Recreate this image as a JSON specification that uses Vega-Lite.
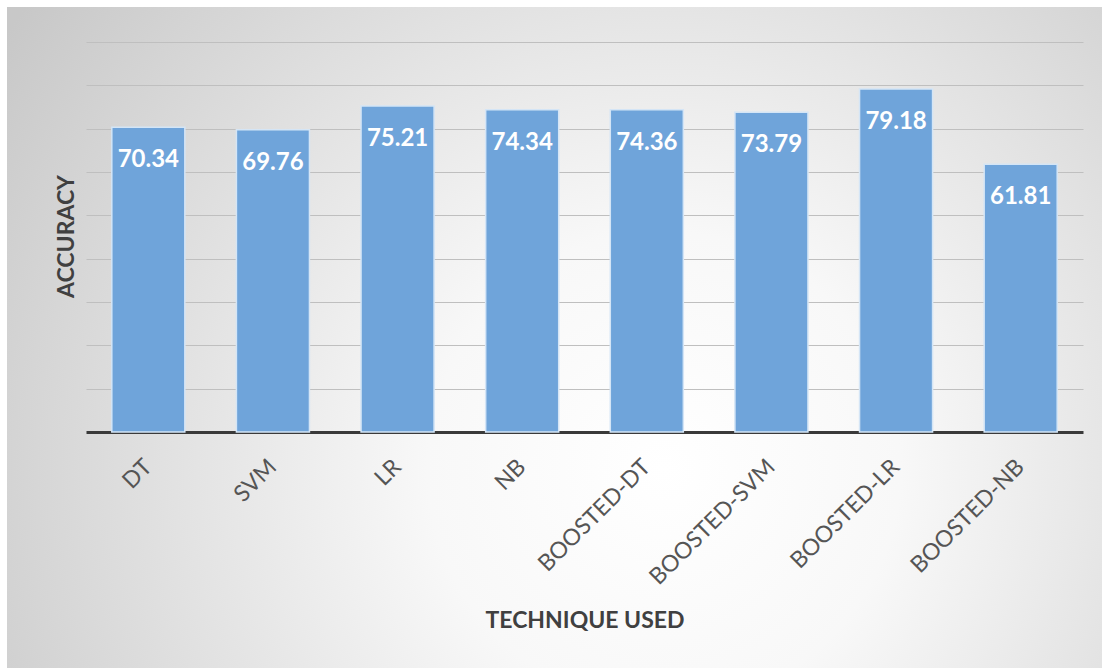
{
  "$schema": "https://vega.github.io/schema/vega-lite/v6.json",
  "autosize": {"type": "none"},
  "padding": {"left": 7, "top": 7, "right": 5, "bottom": 3},
  "width": 1095,
  "height": 661,
  "background": "#ffffff",
  "view": {
    "stroke": null,
    "fill": {
      "gradient": "radial",
      "x1": 0.6, "y1": 0.62, "r1": 0,
      "x2": 0.6, "y2": 0.62, "r2": 0.72,
      "stops": [
        {"offset": 0, "color": "#ffffff"},
        {"offset": 0.3, "color": "#f8f8f8"},
        {"offset": 1, "color": "#c8c8c8"}
      ]
    }
  },
  "data": {
    "values": [
      {"technique": "DT", "accuracy": 70.34},
      {"technique": "SVM", "accuracy": 69.76},
      {"technique": "LR", "accuracy": 75.21},
      {"technique": "NB", "accuracy": 74.34},
      {"technique": "BOOSTED-DT", "accuracy": 74.36},
      {"technique": "BOOSTED-SVM", "accuracy": 73.79},
      {"technique": "BOOSTED-LR", "accuracy": 79.18},
      {"technique": "BOOSTED-NB", "accuracy": 61.81}
    ]
  },
  "encoding": {
    "x": {
      "field": "technique",
      "type": "nominal",
      "sort": null,
      "scale": {"range": [79, 1076], "paddingInner": 0.414, "paddingOuter": 0.207},
      "axis": {
        "title": "TECHNIQUE USED",
        "offset": -236,
        "domain": true,
        "domainColor": "#3a3a3a",
        "domainWidth": 3,
        "ticks": false,
        "labelAngle": -45,
        "labelAlign": "right",
        "labelBaseline": "middle",
        "labelPadding": 31,
        "labelFont": "Lato",
        "labelFontSize": 23,
        "labelColor": "#555555",
        "titleFont": "Lato",
        "titleFontSize": 23,
        "titleFontWeight": "bold",
        "titleColor": "#404040",
        "titleBaseline": "alphabetic",
        "titleY": 195
      }
    },
    "y": {
      "field": "accuracy",
      "type": "quantitative",
      "scale": {"domain": [-54.46, 98.08], "nice": false, "zero": false},
      "axis": {
        "title": "ACCURACY",
        "offset": -79,
        "values": [10, 20, 30, 40, 50, 60, 70, 80, 90],
        "labels": false,
        "ticks": false,
        "domain": false,
        "grid": true,
        "gridColor": "#bfbfbf",
        "gridWidth": 1,
        "titleFont": "Lato",
        "titleFontSize": 23,
        "titleFontWeight": "bold",
        "titleColor": "#404040",
        "titleAngle": -90,
        "titleAlign": "center",
        "titleBaseline": "alphabetic",
        "titleX": -13,
        "titleY": 229
      }
    }
  },
  "layer": [
    {
      "mark": {"type": "bar", "color": "#6fa4da", "stroke": "#d4e5f6", "strokeWidth": 1.5}
    },
    {
      "mark": {
        "type": "text",
        "baseline": "alphabetic",
        "align": "center",
        "dy": 40,
        "color": "#ffffff",
        "font": "Lato",
        "fontSize": 24,
        "fontWeight": "bold"
      },
      "encoding": {
        "text": {"field": "accuracy", "type": "quantitative", "format": ".2f"}
      }
    }
  ]
}
